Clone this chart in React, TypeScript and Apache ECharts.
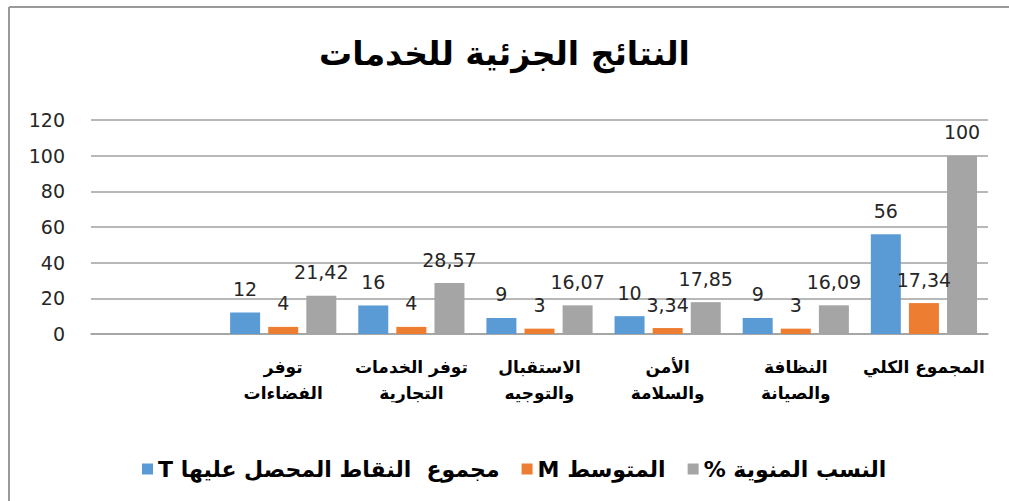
import React, { useEffect, useRef } from "react";
import * as echarts from "echarts";

const categories = [
  "",
  "توفر\nالفضاءات",
  "توفر الخدمات\nالتجارية",
  "الاستقبال\nوالتوجيه",
  "الأمن\nوالسلامة",
  "النظافة\nوالصيانة",
  "المجموع الكلي",
];
const seriesNames = ["T مجموع  النقاط المحصل عليها", "M المتوسط", "% النسب المنوية"];
const totalT = [null, 12, 16, 9, 10, 9, 56];
const averageM = [null, 4, 4, 3, 3.34, 3, 17.34];
const percent = [null, 21.42, 28.57, 16.07, 17.85, 16.09, 100];
const colors = ["#5B9BD5", "#ED7D31", "#A5A5A5"];
const titleText = "النتائج الجزئية للخدمات";

export default function App() {
  const ref = useRef<HTMLDivElement>(null);
  useEffect(() => {
    document.body.style.margin = "0";
    const chart = echarts.init(ref.current!, null, { renderer: "svg" });
    const numFont = "'DejaVu Sans', sans-serif";
    const arFont = "'DejaVu Sans', sans-serif";
    const mk = (name: string, data: (number | null)[], color: string) => ({
      name,
      type: "bar",
      data,
      barWidth: 30,
      barGap: "27%",
      itemStyle: { color },
      label: {
        show: true,
        position: "top",
        distance: 14,
        fontFamily: numFont,
        fontSize: 19,
        color: "#262626",
        formatter: (p: any) => String(p.value).replace(".", ","),
      },
    });
    chart.setOption({
      animation: false,
      color: colors,
      title: {
        text: titleText,
        left: "center",
        top: 32,
        textStyle: { fontFamily: arFont, fontSize: 33, fontWeight: "bold", color: "#000" },
      },
      grid: { left: 91, right: 21, top: 120, bottom: 167, containLabel: false },
      legend: {
        data: seriesNames,
        left: 137,
        top: 453,
        itemWidth: 11,
        itemHeight: 11,
        itemGap: 22,
        icon: "rect",
        textStyle: { fontFamily: arFont, fontSize: 22, fontWeight: "bold", color: "#000" },
      },
      xAxis: {
        type: "category",
        data: categories,
        axisTick: { show: false },
        axisLine: { show: true, lineStyle: { color: "#a0a0a0", width: 1.5 } },
        axisLabel: {
          interval: 0,
          margin: 20,
          fontFamily: arFont,
          fontWeight: "bold",
          fontSize: 17,
          lineHeight: 26,
          color: "#000",
          verticalAlign: "top",
        },
      },
      yAxis: {
        type: "value",
        min: 0,
        max: 120,
        interval: 20,
        axisLine: { show: false },
        axisTick: { show: false },
        splitLine: { lineStyle: { color: "#a0a0a0", width: 1.5 } },
        axisLabel: { margin: 26, fontFamily: numFont, fontSize: 19, color: "#262626" },
      },
      graphic: [
        { type: "line", shape: { x1: 9, y1: 7, x2: 1009, y2: 7 }, style: { stroke: "#9a9a9a", lineWidth: 2 } },
        { type: "line", shape: { x1: 9, y1: 7, x2: 9, y2: 501 }, style: { stroke: "#9a9a9a", lineWidth: 2 } },
      ],
      series: [
        mk(seriesNames[0], totalT, colors[0]),
        mk(seriesNames[1], averageM, colors[1]),
        mk(seriesNames[2], percent, colors[2]),
      ],
    });
    return () => chart.dispose();
  }, []);
  return <div ref={ref} style={{ width: 1009, height: 501 }} />;
}
